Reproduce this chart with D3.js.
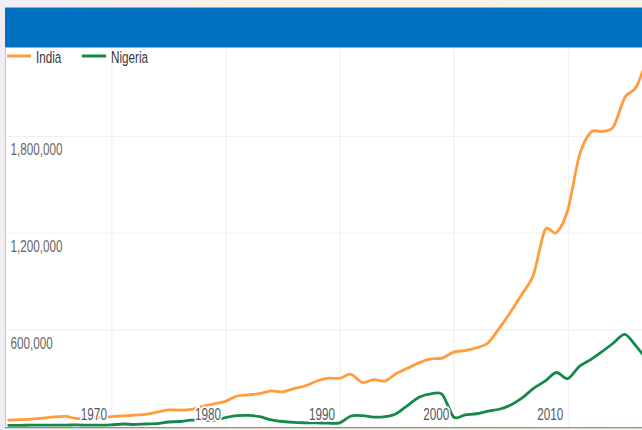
<!DOCTYPE html>
<html>
<head>
<meta charset="utf-8">
<script src="https://cdn.jsdelivr.net/npm/d3@7"></script>
<style>
  html, body { margin: 0; padding: 0; background: #f7f0ea; }
  svg { display: block; }
</style>
</head>
<body>
<svg id="chart" width="642" height="430"></svg>
<script>
// GDP, current US$ (millions)
const years = [1961, 1962, 1963, 1964, 1965, 1966, 1967, 1968, 1969, 1970,
  1971, 1972, 1973, 1974, 1975, 1976, 1977, 1978, 1979, 1980,
  1981, 1982, 1983, 1984, 1985, 1986, 1987, 1988, 1989, 1990,
  1991, 1992, 1993, 1994, 1995, 1996, 1997, 1998, 1999, 2000,
  2001, 2002, 2003, 2004, 2005, 2006, 2007, 2008, 2009, 2010,
  2011, 2012, 2013, 2014, 2015, 2016, 2017];

const india = [37000, 39200, 42200, 48400, 56500, 59600, 45900, 50100, 53100, 58400,
  62400, 67400, 71500, 85500, 99500, 98500, 102700, 121500, 137300, 153000,
  186300, 193500, 200700, 218300, 212200, 232500, 249000, 279000, 296600, 296000,
  321000, 270100, 288200, 279300, 327300, 360300, 392900, 415900, 421400, 458800,
  468400, 485400, 514900, 607700, 709100, 820400, 940300, 1216700, 1198900, 1341900,
  1675600, 1823100, 1827600, 1856700, 2039100, 2103600, 2290400];

const nigeria = [4200, 4500, 4900, 5200, 5600, 5900, 6400, 5200, 5200, 6600,
  12500, 9200, 12300, 15200, 24800, 27800, 36300, 36000, 36500, 52000,
  64000, 66000, 58000, 38000, 28000, 22000, 20000, 19000, 18000, 19000,
  62000, 64000, 55000, 58000, 78000, 130000, 180000, 200000, 196000, 55000,
  69000, 76000, 92000, 104000, 130000, 174000, 234000, 278000, 332000, 294000,
  369000, 412000, 461000, 515000, 568000, 494000, 404000];

const seriesNames = ["India", "Nigeria"];
const seriesColors = ["#ff9d3c", "#17874b"];

const xTicks = [1970, 1980, 1990, 2000, 2010];
const xTickLabels = ["1970", "1980", "1990", "2000", "2010"];
const yTicks = [600000, 1200000, 1800000];
const yTickLabels = ["600,000", "1,200,000", "1,800,000"];

const W = 642, H = 430;
const plot = { left: 6, right: 642, top: 47.5, bottom: 427 };

const svg = d3.select("#chart");

// page backdrop
const defs = svg.append("defs");
const bg = defs.append("linearGradient").attr("id", "bgGrad").attr("x1", 0).attr("x2", 1).attr("y1", 0).attr("y2", 0);
bg.append("stop").attr("offset", "0%").attr("stop-color", "#f2ecf6");
bg.append("stop").attr("offset", "40%").attr("stop-color", "#fbf2e6");
bg.append("stop").attr("offset", "100%").attr("stop-color", "#f6f2ea");
svg.append("rect").attr("width", W).attr("height", H).attr("fill", "url(#bgGrad)");

defs.append("clipPath").attr("id", "plotClip")
  .append("rect")
  .attr("x", plot.left).attr("y", plot.top)
  .attr("width", plot.right - plot.left).attr("height", plot.bottom - plot.top);

// plot panel
svg.append("rect")
  .attr("x", plot.left).attr("y", 7.5)
  .attr("width", plot.right - plot.left).attr("height", plot.bottom - 7.5)
  .attr("fill", "#ffffff");

const x = d3.scaleLinear().domain([1961, 2017]).range([8.7, 647.7]);
const y = d3.scaleLinear().domain([0, 2400000]).range([426, 39.2]);

// gridlines
const gx = svg.append("g")
  .attr("transform", `translate(0,${plot.bottom})`)
  .call(d3.axisBottom(x).tickValues(xTicks).tickSize(-(plot.bottom - plot.top)).tickFormat(""));
const gy = svg.append("g")
  .attr("transform", `translate(${plot.left},0)`)
  .call(d3.axisLeft(y).tickValues(yTicks).tickSize(-(plot.right - plot.left)).tickFormat(""));
[gx, gy].forEach(g => {
  g.select(".domain").remove();
  g.selectAll(".tick line").attr("stroke", "#efefef").attr("stroke-width", 1);
});

// series lines
const rows = years.map((yr, i) => ({ year: yr, values: [india[i], nigeria[i]] }));
const line = idx => d3.line()
  .x(d => x(d.year))
  .y(d => y(d.values[idx]))
  .curve(d3.curveCardinal.tension(0.15));

const lines = svg.append("g").attr("clip-path", "url(#plotClip)");
seriesNames.forEach((name, i) => {
  lines.append("path")
    .datum(rows)
    .attr("fill", "none")
    .attr("stroke", seriesColors[i])
    .attr("stroke-width", 2.8)
    .attr("stroke-linejoin", "round")
    .attr("stroke-linecap", "round")
    .attr("d", line(i));
});

// condensed label helper
function label(g, tx, ty, text, anchor, fill, halo) {
  const t = g.append("text")
    .attr("transform", `translate(${tx},${ty}) scale(0.71,1)`)
    .attr("text-anchor", anchor)
    .attr("font-family", "'Liberation Sans', Arial, sans-serif")
    .attr("font-size", 16.5)
    .attr("fill", fill)
    .text(text);
  if (halo) {
    t.attr("stroke", "#ffffff").attr("stroke-width", 4)
     .attr("stroke-linejoin", "round").attr("paint-order", "stroke");
  }
  return t;
}

const labels = svg.append("g");
xTicks.forEach((t, i) => label(labels, x(t) - 4.5, 420, xTickLabels[i], "end", "#555a62", true));
yTicks.forEach((t, i) => label(labels, 10.5, y(t) + 19.3, yTickLabels[i], "start", "#666666", true));

// header bar
svg.append("rect")
  .attr("x", 5).attr("y", 7.5)
  .attr("width", W - 5).attr("height", 40)
  .attr("fill", "#0070c0");

// legend
const legend = svg.append("g");
const legendX = [7, 82];
seriesNames.forEach((name, i) => {
  legend.append("line")
    .attr("x1", legendX[i]).attr("x2", legendX[i] + 24)
    .attr("y1", 56).attr("y2", 56)
    .attr("stroke", seriesColors[i]).attr("stroke-width", 3);
  label(legend, legendX[i] + 29, 63, name, "start", "#3a3a3a", false);
});

// frame edges
svg.append("line")
  .attr("x1", 5.5).attr("x2", 5.5).attr("y1", 47.5).attr("y2", 428)
  .attr("stroke", "#d8c9b4").attr("stroke-width", 1.2);
svg.append("line")
  .attr("x1", 5).attr("x2", W).attr("y1", 427.6).attr("y2", 427.6)
  .attr("stroke", "#8c8c8c").attr("stroke-width", 1.4);
</script>
</body>
</html>
